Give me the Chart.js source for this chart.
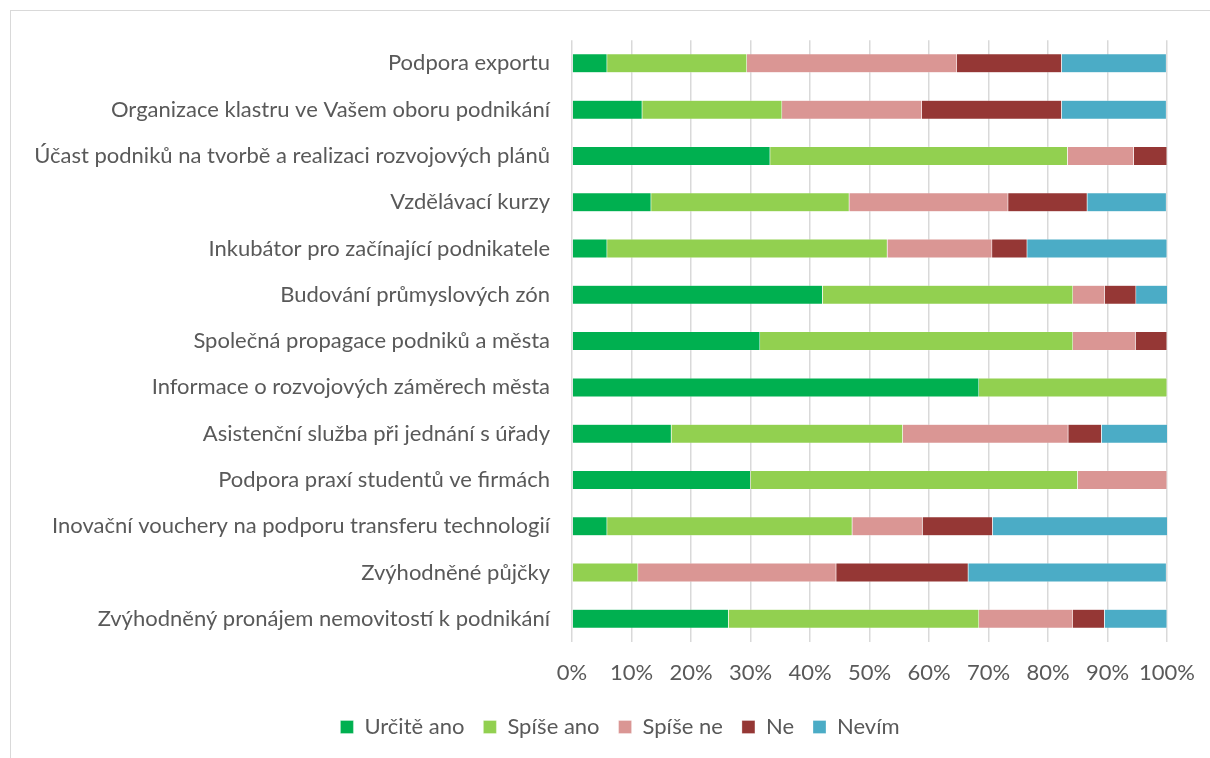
<!DOCTYPE html>
<html>
<head>
<meta charset="utf-8">
<script src="https://cdn.jsdelivr.net/npm/chart.js@4.4.1/dist/chart.umd.min.js"></script>
<style>
  html, body { margin: 0; padding: 0; background: #fff; overflow: hidden; width: 1210px; height: 758px; position: relative; }
  #ramecek { position: absolute; left: 10px; top: 10px; width: 1230px; height: 780px; border: 1px solid #d9d9d9; box-sizing: border-box; }
  #graf-obal { position: absolute; left: 10px; top: 5px; width: 1220px; height: 757px; }
</style>
</head>
<body>
<div id="ramecek"></div>
<div id="graf-obal"><canvas id="graf"></canvas></div>
<script>
// kategorie (odshora dolu)
const kategorie = [
  "Podpora exportu",
  "Organizace klastru ve Vašem oboru podnikání",
  "Účast podniků na tvorbě a realizaci rozvojových plánů",
  "Vzdělávací kurzy",
  "Inkubátor pro začínající podnikatele",
  "Budování průmyslových zón",
  "Společná propagace podniků a města",
  "Informace o rozvojových záměrech města",
  "Asistenční služba při jednání s úřady",
  "Podpora praxí studentů ve firmách",
  "Inovační vouchery na podporu transferu technologií",
  "Zvýhodněné půjčky",
  "Zvýhodněný pronájem nemovitostí k podnikání"
];

// podíly odpovědí v %
const urciteAno = [5.9, 11.8, 33.3, 13.3, 5.9, 42.1, 31.6, 68.4, 16.7, 30.0, 5.9, 0, 26.3];
const spiseAno  = [23.5, 23.5, 50.0, 33.3, 47.1, 42.1, 52.6, 31.6, 38.9, 55.0, 41.2, 11.1, 42.1];
const spiseNe   = [35.3, 23.5, 11.1, 26.7, 17.6, 5.3, 10.5, 0, 27.8, 15.0, 11.8, 33.3, 15.8];
const ne        = [17.6, 23.5, 5.6, 13.3, 5.9, 5.3, 5.3, 0, 5.6, 0, 11.8, 22.2, 5.3];
const nevim     = [17.6, 17.6, 0, 13.3, 23.5, 5.3, 0, 0, 11.1, 0, 29.4, 33.3, 10.5];

const tickyX = [0, 10, 20, 30, 40, 50, 60, 70, 80, 90, 100];

const pismo = "Lato, 'Open Sans', sans-serif";
const seda = "#595959";

function rada(nazev, data, barva) {
  return {
    label: nazev,
    data: data,
    backgroundColor: barva,
    borderColor: "rgba(255,255,255,0.6)",
    borderWidth: 0.5,
    barPercentage: 0.41,
    categoryPercentage: 1.0
  };
}

const ctx = document.getElementById("graf").getContext("2d");
new Chart(ctx, {
  type: "bar",
  data: {
    labels: kategorie,
    datasets: [
      rada("Určitě ano", urciteAno, "#00B050"),
      rada("Spíše ano", spiseAno, "#92D050"),
      rada("Spíše ne", spiseNe, "#DA9694"),
      rada("Ne", ne, "#953735"),
      rada("Nevím", nevim, "#4BACC6")
    ]
  },
  options: {
    indexAxis: "y",
    responsive: true,
    maintainAspectRatio: false,
    animation: false,
    layout: { padding: { top: 30, right: 0, bottom: 14, left: 0 } },
    plugins: {
      legend: {
        position: "bottom",
        labels: {
          font: { family: pismo, size: 22 },
          color: seda,
          boxWidth: 13,
          boxHeight: 13,
          padding: 19
        }
      },
      tooltip: { enabled: false }
    },
    scales: {
      x: {
        stacked: true,
        min: 0,
        max: 100,
        afterBuildTicks: (osa) => { osa.ticks = tickyX.map(v => ({ value: v })); },
        afterFit: (osa) => { osa.height = 55; },
        ticks: {
          callback: (v) => v + "%",
          font: { family: pismo, size: 22 },
          color: seda,
          padding: 18,
          minRotation: 0,
          maxRotation: 0,
          autoSkip: false
        },
        grid: { color: "#d9d9d9", lineWidth: 1.5, drawTicks: false },
        border: { display: false }
      },
      y: {
        stacked: true,
        afterFit: (osa) => { osa.width = 562; },
        ticks: {
          font: { family: pismo, size: 22 },
          color: seda,
          padding: 22
        },
        grid: { display: false, drawTicks: false },
        border: { display: false }
      },
      // prázdná osa vpravo jen kvůli okraji
      yPrava: {
        type: "linear",
        position: "right",
        display: true,
        afterFit: (osa) => { osa.width = 63; },
        ticks: { display: false },
        grid: { display: false, drawTicks: false },
        border: { display: false }
      }
    }
  }
});
</script>
</body>
</html>
